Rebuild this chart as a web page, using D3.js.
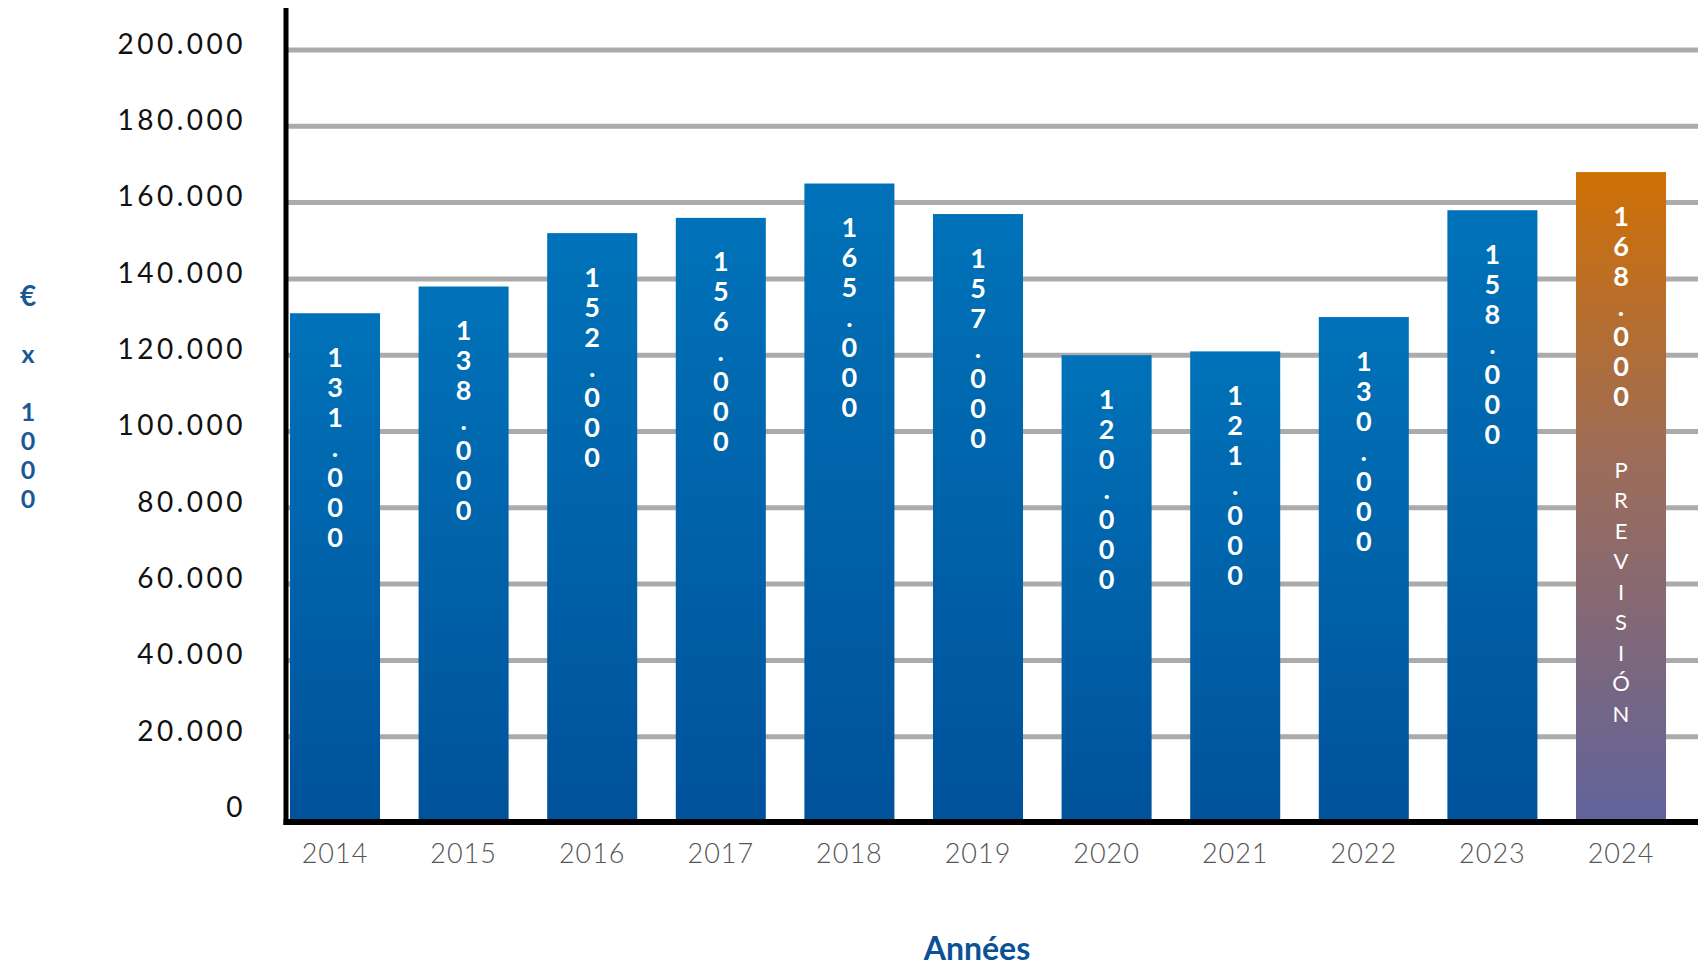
<!DOCTYPE html>
<html>
<head>
<meta charset="utf-8">
<script src="https://cdn.jsdelivr.net/npm/d3@7"></script>
<style>
  body { margin: 0; background: #fff; }
  text { font-family: Lato, "Open Sans", sans-serif; }
</style>
</head>
<body>
<div id="chart"></div>
<script>
// data
var years = ["2014", "2015", "2016", "2017", "2018", "2019", "2020", "2021", "2022", "2023", "2024"];
var values = [131000, 138000, 152000, 156000, 165000, 157000, 120000, 121000, 130000, 158000, 168000];
var valueLabels = ["131.000", "138.000", "152.000", "156.000", "165.000", "157.000", "120.000", "121.000", "130.000", "158.000", "168.000"];
var notes = ["", "", "", "", "", "", "", "", "", "", "PREVISIÓN"];
var yTicks = [0, 20000, 40000, 60000, 80000, 100000, 120000, 140000, 160000, 180000, 200000];
var yTickLabels = ["0", "20.000", "40.000", "60.000", "80.000", "100.000", "120.000", "140.000", "160.000", "180.000", "200.000"];
var yTitle = "€ x 1000";
var xTitle = "Années";

var svgWidth = 1698;
var svgHeight = 968;
var axisX = 286;
var baseY = 822;

var svg = d3.select("#chart")
  .append("svg")
  .attr("width", svgWidth)
  .attr("height", svgHeight);

var defs = svg.append("defs");
var blue = defs.append("linearGradient").attr("id", "blueGrad")
  .attr("x1", 0).attr("y1", 0).attr("x2", 0).attr("y2", 1);
blue.append("stop").attr("offset", "0%").attr("stop-color", "#0072b9");
blue.append("stop").attr("offset", "100%").attr("stop-color", "#00529a");
var fc = defs.append("linearGradient").attr("id", "forecastGrad")
  .attr("x1", 0).attr("y1", 0).attr("x2", 0).attr("y2", 1);
fc.append("stop").attr("offset", "0%").attr("stop-color", "#cf7004");
fc.append("stop").attr("offset", "45%").attr("stop-color", "#9c6c5a");
fc.append("stop").attr("offset", "100%").attr("stop-color", "#61639c");

var x = d3.scaleBand()
  .domain(years)
  .range([axisX, 1670])
  .paddingInner(0.3)
  .paddingOuter(0.031);

var y = d3.scaleLinear()
  .domain([0, 200000])
  .range([813, 50]);

// gridlines
svg.append("g")
  .selectAll("line")
  .data(yTicks.slice(1))
  .enter()
  .append("line")
  .attr("x1", axisX)
  .attr("x2", svgWidth)
  .attr("y1", d => y(d))
  .attr("y2", d => y(d))
  .attr("stroke", "#ababab")
  .attr("stroke-width", 5);

// bars
svg.append("g")
  .selectAll("rect")
  .data(values)
  .enter()
  .append("rect")
  .attr("x", (d, i) => x(years[i]))
  .attr("y", d => y(d))
  .attr("width", x.bandwidth())
  .attr("height", d => baseY - y(d))
  .attr("fill", (d, i) => notes[i] ? "url(#forecastGrad)" : "url(#blueGrad)");

// stacked value labels inside bars
var step = 30;
values.forEach(function(v, i) {
  var cx = x(years[i]) + x.bandwidth() / 2;
  var top = y(v) + 43;
  var chars = valueLabels[i].split("");
  var g = svg.append("g");
  chars.forEach(function(c, j) {
    g.append("text")
      .attr("x", cx)
      .attr("y", top + j * step)
      .attr("text-anchor", "middle")
      .attr("dominant-baseline", "central")
      .attr("fill", "#fff")
      .attr("font-weight", "bold")
      .attr("font-size", "27px")
      .text(c);
  });
  if (notes[i]) {
    notes[i].split("").forEach(function(c, j) {
      g.append("text")
        .attr("x", cx)
        .attr("y", top + (chars.length + 1 + j) * 30.5 + 10)
        .attr("text-anchor", "middle")
        .attr("dominant-baseline", "central")
        .attr("fill", "#fff")
        .attr("font-size", "22px")
        .text(c);
    });
  }
});

// y axis labels
var leftAxis = d3.axisLeft(y)
  .tickValues(yTicks)
  .tickFormat((d, i) => yTickLabels[i])
  .tickSize(0)
  .tickPadding(40);

var yAxisG = svg.append("g")
  .attr("transform", `translate(${axisX},0)`)
  .call(leftAxis);
yAxisG.select(".domain").remove();
yAxisG.selectAll("text")
  .attr("dy", "0.12em")
  .attr("font-size", "28px")
  .attr("font-family", "Lato, sans-serif")
  .attr("letter-spacing", "3.5px")
  .attr("fill", "#111");

// x axis labels
var bottomAxis = d3.axisBottom(x).tickSize(0).tickPadding(22);
var xAxisG = svg.append("g")
  .attr("transform", `translate(0,${baseY})`)
  .call(bottomAxis);
xAxisG.select(".domain").remove();
xAxisG.selectAll("text")
  .attr("font-size", "27px")
  .attr("font-family", "Lato, sans-serif")
  .attr("font-weight", 300)
  .attr("letter-spacing", "1px")
  .attr("fill", "#555");

// axis lines
svg.append("line")
  .attr("x1", axisX).attr("x2", axisX)
  .attr("y1", 8).attr("y2", baseY + 3)
  .attr("stroke", "#000").attr("stroke-width", 5);
svg.append("line")
  .attr("x1", axisX - 2.5).attr("x2", svgWidth)
  .attr("y1", baseY).attr("y2", baseY)
  .attr("stroke", "#000").attr("stroke-width", 6);

// vertical y title
var tg = svg.append("g");
yTitle.split("").forEach(function(c, j) {
  tg.append("text")
    .attr("x", 28)
    .attr("y", 295 + j * 29)
    .attr("text-anchor", "middle")
    .attr("dominant-baseline", "central")
    .attr("fill", "#1b5796")
    .attr("font-weight", "bold")
    .attr("font-size", j === 0 ? "28px" : "25px")
    .text(c);
});

// x title
svg.append("text")
  .attr("x", 977)
  .attr("y", 960)
  .attr("text-anchor", "middle")
  .attr("fill", "#0b5196")
  .attr("font-weight", "bold")
  .attr("font-size", "32px")
  .text(xTitle);
</script>
</body>
</html>
